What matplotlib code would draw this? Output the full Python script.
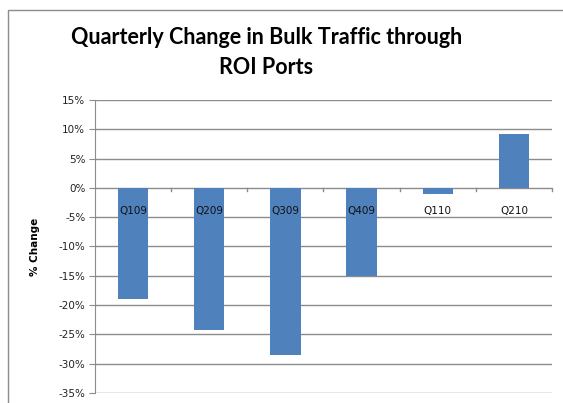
import matplotlib
matplotlib.use("Agg")
import matplotlib.pyplot as plt
from matplotlib.patches import Rectangle
from matplotlib.ticker import FuncFormatter, MultipleLocator

# Chart data
quarters = ["Q109", "Q209", "Q309", "Q409", "Q110", "Q210"]
pct_change = [-19.0, -24.2, -28.5, -15.0, -1.0, 9.2]

bar_color = "#4F81BD"
grid_color = "#8C8C8C"

fig = plt.figure(figsize=(5.63, 4.03), dpi=100)
W, H = 563, 403

# outer chart border (Excel style, cropped on the right and bottom)
fig.patches.append(Rectangle((8 / W, -0.1), 1.2, 1 - 10 / H + 0.1,
                             transform=fig.transFigure, fill=False,
                             edgecolor="#8C8C8C", linewidth=1.0))

ax = fig.add_axes([95 / W, 1 - 393 / H, (552 - 95) / W, (393 - 100) / H])

x = list(range(len(quarters)))
ax.bar(x, pct_change, width=0.4, color=bar_color, zorder=3)

ax.set_xlim(-0.5, len(quarters) - 0.5)
ax.set_ylim(-35, 15)
ax.yaxis.set_major_locator(MultipleLocator(5))
ax.yaxis.set_major_formatter(FuncFormatter(lambda v, _: f"{v:.0f}%"))
ax.grid(axis="y", color=grid_color, linewidth=1.0, zorder=0)
ax.set_axisbelow(True)

for side in ["top", "right", "bottom"]:
    ax.spines[side].set_visible(False)
ax.spines["left"].set_color(grid_color)
ax.tick_params(axis="y", length=4, color=grid_color, labelsize=7.5,
               labelcolor="#222222", pad=3)
ax.tick_params(axis="x", length=0)
ax.set_xticks([])

# category boundary tick marks on the zero line
for b in [i + 0.5 for i in range(len(quarters))]:
    ax.plot([b, b], [0, -0.6], color=grid_color, linewidth=1.0, zorder=2,
            clip_on=False)

# category labels sit just below the zero line
for xi, q in zip(x, quarters):
    ax.text(xi, -4.0, q, ha="center", va="center", fontsize=7.5,
            color="#111111", zorder=4)

ax.set_ylabel("% Change", fontsize=7.5, fontweight="bold", labelpad=13)

title_x = 0.5 * (73 + 460) / W
fig.text(title_x, 1 - 37 / H, "Quarterly Change in Bulk Traffic through",
         ha="center", va="center", fontsize=15.5, fontweight="bold",
         family="Lato")
fig.text(title_x, 1 - 68 / H, "ROI Ports",
         ha="center", va="center", fontsize=15.5, fontweight="bold",
         family="Lato")

fig.savefig("out.png", dpi=100)
